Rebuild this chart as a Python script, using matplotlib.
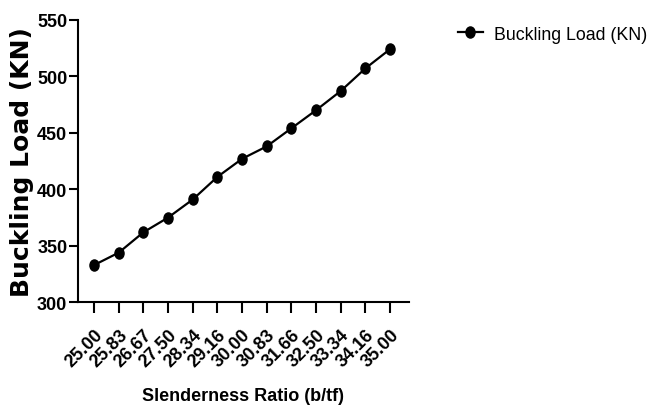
import matplotlib
matplotlib.use("Agg")
from matplotlib import pyplot as plt
from matplotlib.path import Path
from matplotlib.transforms import Affine2D

# chart data
ratio_labels = ["25.00", "25.83", "26.67", "27.50", "28.34", "29.16", "30.00",
                "30.83", "31.66", "32.50", "33.34", "34.16", "35.00"]
buckling_load = [333, 344, 362, 375, 391, 411, 427, 438, 454, 470, 487, 507, 524]
y_ticks = [300, 350, 400, 450, 500, 550]

plt.rcParams['font.family'] = ["Liberation Sans", "DejaVu Sans"]

fig = plt.figure(figsize=(6.48, 4.10), dpi=100)
ax = fig.add_axes([0.120, 0.260, 0.511, 0.6895])

# the reference is slightly stretched vertically, so markers are tall ellipses
ellipse = Path.unit_circle().transformed(Affine2D().scale(1.0, 1.22))

xs = list(range(len(ratio_labels)))
ax.plot(xs, buckling_load, color="black", lw=1.6, marker=ellipse, ms=8,
        label="Buckling Load (KN)")

ax.set_xlim(-0.66, 12.76)
ax.set_ylim(300, 550)
ax.set_yticks(y_ticks)
ax.set_xticks(xs)
ax.set_xticklabels(ratio_labels, rotation=45, ha="right", va="top",
                   rotation_mode="anchor", fontsize=13, fontweight="bold")
ax.set_yticklabels([str(v) for v in y_ticks], fontsize=13, fontweight="bold")

for side in ("top", "right"):
    ax.spines[side].set_visible(False)
for side in ("left", "bottom"):
    ax.spines[side].set_linewidth(1.5)
ax.tick_params(axis="x", length=8, width=1.5, pad=9)
ax.tick_params(axis="y", length=6.5, width=1.5, pad=1)

ax.set_xlabel("Slenderness Ratio (b/tf)", fontsize=13, fontweight="bold",
              labelpad=12)
ax.set_ylabel("Buckling Load (KN)", family=["DejaVu Sans"], fontsize=18,
              fontweight="bold", labelpad=2)

ax.legend(loc="center left", bbox_to_anchor=(458 / 648, 1 - 35 / 410),
          bbox_transform=fig.transFigure, frameon=False, fontsize=12.8,
          handlelength=1.4, handletextpad=0.6, borderpad=0, borderaxespad=0)

fig.savefig("out.png", dpi=100)
plt.close(fig)
